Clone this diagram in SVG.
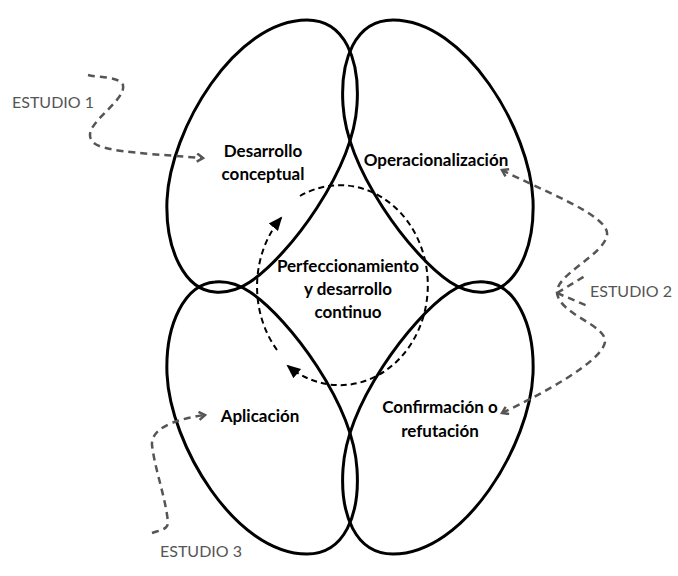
<svg xmlns="http://www.w3.org/2000/svg" width="678" height="576" viewBox="0 0 678 576">
<defs>
<style>
.e{fill:none;stroke:#000;stroke-width:3}
.t{font-family:Lato,"Liberation Sans",sans-serif;font-weight:bold;font-size:17px;fill:#000;text-anchor:middle}
.s{font-family:Lato,"Liberation Sans",sans-serif;font-size:16px;fill:#555}
.g{fill:none;stroke:#555;stroke-width:2.5;stroke-dasharray:7,5}
.c{fill:none;stroke:#000;stroke-width:2;stroke-dasharray:6,4}
</style>
<path id="lobe" d="M215,292 C185,290 165,250 167,200 C170,130 235,20 307,20 C345,20 360,60 357,105 C353,170 290,255 250,282 C238,290 226,293 215,292 Z"/>
<marker id="ga" markerWidth="10" markerHeight="10" refX="7" refY="5" orient="auto-start-reverse" markerUnits="userSpaceOnUse"><path d="M1,1 L7,5 L1,9" fill="none" stroke="#555" stroke-width="2.5"/></marker>
<marker id="ba" markerWidth="16" markerHeight="16" refX="12" refY="8" orient="auto" markerUnits="userSpaceOnUse"><path d="M0,2 L14,8 L0,14 Z" fill="#000"/></marker>
</defs>
<g id="lobe-tl"><use href="#lobe" class="e"/></g>
<g id="lobe-tr"><use href="#lobe" class="e" transform="translate(700,0) scale(-1,1)"/></g>
<g id="lobe-bl"><use href="#lobe" class="e" transform="translate(0,574) scale(1,-1)"/></g>
<g id="lobe-br"><use href="#lobe" class="e" transform="translate(700,574) scale(-1,-1)"/></g>
<g id="connectors">
<path class="c" d="M277,350 A88,100 0 0 1 281,218" marker-end="url(#ba)"/>
<path class="c" d="M300,196 A88,100 0 1 1 288,366" marker-end="url(#ba)"/>
<path class="g" d="M88,75 C100,78 118,76 123,85 C126,100 90,120 90,135 C90,148 110,150 150,154 L203,158" marker-end="url(#ga)"/>
<path class="g" d="M502,170 C540,190 610,215 607,235 C604,255 555,275 557,293 C560,315 607,325 605,342 C602,362 540,395 502,413" marker-start="url(#ga)" marker-end="url(#ga)"/>
<path class="g" d="M557,293 L585,276 M557,293 L590,307"/>
<path class="g" d="M152,533 C160,530 168,530 168,522 C165,495 155,470 152,445 C151,430 170,420 205,415" marker-end="url(#ga)"/>
</g>
<g id="labels">
<text class="s" x="12" y="108">ESTUDIO 1</text>
<text class="s" x="590" y="297">ESTUDIO 2</text>
<text class="s" x="160" y="557">ESTUDIO 3</text>
</g>
<g id="n1"><text class="t" x="263" y="157">Desarrollo</text><text class="t" x="263" y="180">conceptual</text></g>
<g id="n2"><text class="t" x="436" y="166">Operacionalización</text></g>
<g id="n3"><text class="t" x="348" y="272">Perfeccionamiento</text><text class="t" x="348" y="295">y desarrollo</text><text class="t" x="348" y="318">continuo</text></g>
<g id="n4"><text class="t" x="260" y="422">Aplicación</text></g>
<g id="n5"><text class="t" x="440" y="413">Confirmación o</text><text class="t" x="440" y="437">refutación</text></g>
</svg>
